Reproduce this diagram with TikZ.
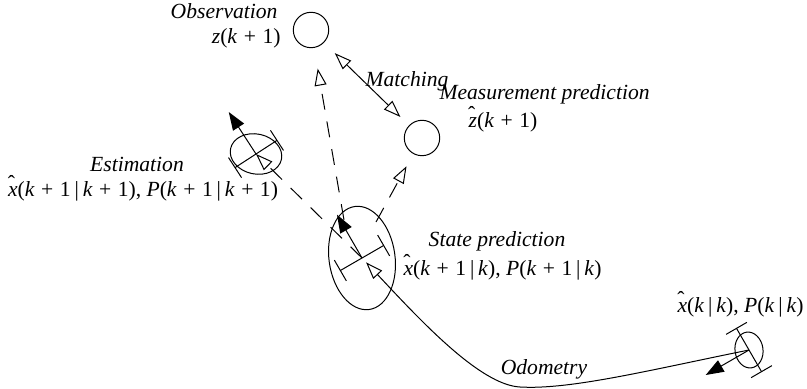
\documentclass[tikz,border=0pt]{standalone}
\usepackage{fontspec}
\setmainfont{Liberation Serif}
\usetikzlibrary{arrows.meta}
\newcommand{\mi}[1]{\textit{#1}}
\newcommand{\hatit}[1]{\ooalign{\mi{#1}\cr\hidewidth\raisebox{0.6ex}{\char"02C6}\hspace{0.12em}\hidewidth\cr}}
\newcommand{\pl}{\hspace{0.3em}+\hspace{0.3em}}
\newcommand{\cnd}{\hspace{0.18em}|\hspace{0.18em}}
\newcommand{\robot}[6]{%
	\coordinate (#1) at (#2);
	\draw[rotate around={#6:(#1)}] (#1) ellipse [x radius=#4, y radius=#5];
	\begin{scope}[shift={(#1)}, rotate=#3]
		\draw (0pt,-12.5pt) -- (0pt,12.5pt);
		\draw (-6pt,12.5pt) -- (6pt,12.5pt) (-6pt,-12.5pt) -- (6pt,-12.5pt);
		\draw[-{Triangle[length=9pt,width=6.5pt]}] (0pt,0pt) -- (25pt,0pt);
	\end{scope}}
\begin{document}
\begin{tikzpicture}[x=0.5pt, y=-0.5pt, line width=0.5pt, line join=round,
		font=\fontsize{10.8}{12}\selectfont,
		opentip/.style={-{Triangle[open,length=8.5pt,width=6pt]}},
		meas/.style={draw, circle, minimum size=17.7pt, inner sep=0pt},
		lbl/.style={inner sep=0pt, font=\fontsize{10.8}{12}\selectfont\itshape},
		frm/.style={inner sep=0pt},
		dashline/.style={dash pattern=on 8pt off 6pt}]
	\useasboundingbox (0,0) rectangle (807,389);
	\node[meas] (obs) at (311,30) {};
	\node[meas] (pred) at (422,138) {};
	\robot{est}{256,154}{123}{13pt}{10pt}{-12}
	\robot{sp}{362,258}{120}{16.5pt}{26pt}{8}
	\robot{kk}{749,350}{210}{7pt}{9pt}{8}
	\coordinate (sp-n) at (344,220);
	\coordinate (sp-ne) at (376,222);
	\draw[{Triangle[open,length=8.5pt,width=6pt]}-{Triangle[open,length=8.5pt,width=6pt]}, shorten <=7.5pt, shorten >=6pt] (obs) -- (pred);
	\draw[dashline, opentip, shorten >=10.5pt] (sp-n) -- (obs);
	\draw[dashline, opentip, shorten >=7pt] (sp-ne) -- (pred);
	\draw[dashline, opentip] (sp) -- (est);
	\draw[opentip, shorten >=3pt] (kk) .. controls (650,370) and (570,390) .. (520,387) .. controls (480,385) and (420,320) .. (sp);
	\node[lbl, anchor=east] (obs-t) at (278,11) {Observation};
	\node[frm, anchor=east] (obs-f) at (281,38) {\mi{z}(\mi{k}\pl 1)};
	\node[lbl] (match-t) at (407,81) {Matching};
	\node[lbl, anchor=west] (pred-t) at (439,94) {Measurement prediction};
	\node[frm] (pred-f) at (503,122) {\hatit{z}(\mi{k}\pl 1)};
	\node[lbl] (est-t) at (137,164) {Estimation};
	\node[frm] (est-f) at (143,191) {\hatit{x}(\mi{k}\pl 1\cnd\mi{k}\pl 1), \mi{P}(\mi{k}\pl 1\cnd\mi{k}\pl 1)};
	\node[lbl] (sp-t) at (497,241) {State prediction};
	\node[frm, anchor=west] (sp-f) at (403,270) {\hatit{x}(\mi{k}\pl 1\cnd\mi{k}), \mi{P}(\mi{k}\pl 1\cnd\mi{k})};
	\node[frm, anchor=west] (kk-f) at (677,307) {\hatit{x}(\mi{k}\cnd\mi{k}), \mi{P}(\mi{k}\cnd\mi{k})};
	\node[lbl] (odo-t) at (544,369) {Odometry};
\end{tikzpicture}
\end{document}
